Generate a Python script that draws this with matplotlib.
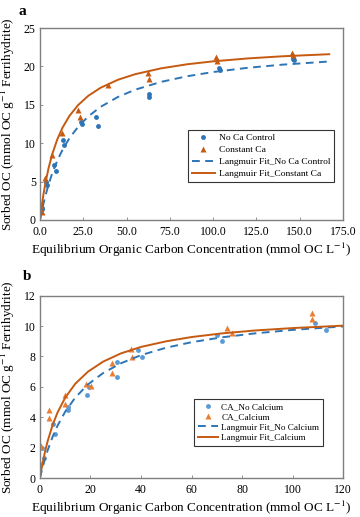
import numpy as np
import matplotlib
matplotlib.use('Agg')
import matplotlib.pyplot as plt

plt.rcParams['font.family'] = ['Liberation Serif', 'DejaVu Serif']
plt.rcParams['mathtext.fontset'] = 'stix'

#%% Panel a
a_noca_x = [1.0, 1.3, 3.5, 4.2, 8.0, 9.0, 13.4, 14.0, 23.6, 24.5, 32.4, 33.5, 62.8, 62.8, 103.4, 103.8, 146.2, 146.4]
a_noca_y = [1.4, 1.5, 4.9, 4.6, 7.2, 6.4, 10.4, 9.8, 12.7, 12.5, 13.4, 12.3, 16.4, 16.0, 19.75, 19.5, 21.0, 20.8]
a_ca_x = [0.8, 1.3, 2.9, 6.7, 12.5, 22.0, 23.0, 39.3, 62.3, 62.8, 101.9, 102.2, 145.6, 146.0]
a_ca_y = [1.9, 1.0, 5.5, 8.5, 11.3, 14.3, 13.4, 17.6, 19.2, 18.3, 21.2, 20.7, 21.8, 21.5]

# Langmuir fit curves
a_fit_x = [0, 1, 2, 3, 5, 7, 10, 13, 17, 22, 28, 35, 45, 55, 70, 85, 100, 120, 140, 167]
a_fit_noca = [0, 1.11, 2.11, 3.03, 4.64, 6.02, 7.73, 9.13, 10.65, 12.13, 13.51, 14.73,
              16.02, 16.97, 17.99, 18.72, 19.27, 19.82, 20.23, 20.64]
a_fit_ca = [0, 1.77, 3.30, 4.62, 6.79, 8.51, 10.50, 12.02, 13.55, 14.96, 16.19, 17.22,
            18.26, 18.99, 19.75, 20.28, 20.66, 21.04, 21.32, 21.59]

#%% Panel b
b_noca_x = [0.8, 1.7, 5.3, 5.9, 11.2, 11.2, 18.5, 19.5, 30.6, 30.6, 38.9, 40.3, 70.0, 72.1, 108.9, 113.1]
b_noca_y = [2.0, 1.3, 3.57, 2.9, 4.65, 4.5, 5.48, 5.96, 7.65, 6.65, 8.42, 7.98, 9.39, 9.04, 10.2, 9.77]
b_ca_x = [0.2, 0.4, 3.4, 3.7, 10.0, 10.0, 18.2, 20.3, 28.4, 28.4, 35.9, 36.3, 73.9, 75.9, 107.6, 107.8]
b_ca_y = [1.0, 2.13, 3.95, 4.45, 5.44, 4.9, 6.2, 6.03, 7.57, 6.9, 8.5, 7.94, 9.87, 9.54, 10.86, 10.49]

b_fit_x = [0, 0.5, 1, 2, 3, 5, 7, 10, 14, 19, 25, 32, 40, 50, 60, 72, 85, 100, 120]
b_fit_noca = [0, 0.34, 0.67, 1.26, 1.80, 2.71, 3.46, 4.37, 5.30, 6.16, 6.91, 7.55, 8.09,
              8.58, 8.94, 9.26, 9.52, 9.75, 9.98]
b_fit_ca = [0, 0.49, 0.94, 1.73, 2.40, 3.49, 4.33, 5.29, 6.21, 7.00, 7.66, 8.20, 8.63,
            9.00, 9.28, 9.52, 9.71, 9.87, 10.03]

#%% Cores
blue_dark = '#2E75B6'
orange_dark = '#C55A11'
blue_light = '#5B9BD5'
orange_light = '#ED7D31'

fig = plt.figure(figsize=(3.6, 5.17), dpi=100)
ax1 = fig.add_axes([0.111, 0.5745, 0.842, 0.3713])
ax2 = fig.add_axes([0.111, 0.0754, 0.842, 0.3526])


def style_axes(ax):
    for s in ax.spines.values():
        s.set_color('#7f7f7f')
        s.set_linewidth(1.0)
    ax.tick_params(direction='in', length=2.5, width=0.6, color='#7f7f7f',
                   labelsize=8.5, pad=3)
    ax.tick_params(axis='x', pad=4.5)
    ax.set_ylabel('Sorbed OC (mmol OC g$^{-1}$ Ferrihydrite)', fontsize=9.5, labelpad=5)
    ax.set_xlabel('Equilibrium Organic Carbon Concentration (mmol OC L$^{-1}$)',
                  fontsize=9.5, labelpad=2)


#%% Painel a
ax1.plot(a_noca_x, a_noca_y, 'o', color=blue_dark, ms=3.5, mec='none', label='No Ca Control')
ax1.plot(a_ca_x, a_ca_y, '^', color=orange_dark, ms=4.5, mec='none', label='Constant Ca')
ax1.plot(a_fit_x, a_fit_noca, '--', color=blue_dark, lw=1.4, dashes=(4, 2.8),
         label='Langmuir Fit_No Ca Control')
ax1.plot(a_fit_x, a_fit_ca, '-', color=orange_dark, lw=1.4, label='Langmuir Fit_Constant Ca')
ax1.set_xlim(0, 175)
ax1.set_ylim(0, 25)
ax1.set_xticks(np.arange(0, 176, 25))
ax1.set_xticklabels(['%.1f' % v for v in np.arange(0, 176, 25)])
ax1.set_yticks(np.arange(0, 26, 5))
style_axes(ax1)
leg1 = ax1.legend(loc='upper left', bbox_to_anchor=(0.488, 0.47), fontsize=6.8,
                  frameon=True, fancybox=False, edgecolor='black', borderpad=0.4,
                  handlelength=2.5, labelspacing=0.35, handletextpad=0.4, borderaxespad=0)
leg1.get_frame().set_linewidth(0.8)
fig.text(0.062, 0.978, 'a', fontsize=11, fontweight='bold', va='center', ha='center')

#%% Painel b
ax2.plot(b_noca_x, b_noca_y, 'o', color=blue_light, ms=3.5, mec='none', label='CA_No Calcium')
ax2.plot(b_ca_x, b_ca_y, '^', color=orange_light, ms=4.5, mec='none', label='CA_Calcium')
ax2.plot(b_fit_x, b_fit_noca, '--', color=blue_dark, lw=1.4, dashes=(4, 2.8),
         label='Langmuir Fit_No Calcium')
ax2.plot(b_fit_x, b_fit_ca, '-', color=orange_dark, lw=1.4, label='Langmuir Fit_Calcium')
ax2.set_xlim(0, 120)
ax2.set_ylim(0, 12)
ax2.set_xticks(np.arange(0, 121, 20))
ax2.set_yticks(np.arange(0, 13, 2))
style_axes(ax2)
leg2 = ax2.legend(loc='upper left', bbox_to_anchor=(0.508, 0.433), fontsize=6.6,
                  frameon=True, fancybox=False, edgecolor='black', borderpad=0.4,
                  handlelength=2.2, labelspacing=0.2, handletextpad=0.4, borderaxespad=0)
leg2.get_frame().set_linewidth(0.8)
fig.text(0.075, 0.466, 'b', fontsize=11, fontweight='bold', va='center', ha='center')

fig.savefig('out.png', dpi=100)
